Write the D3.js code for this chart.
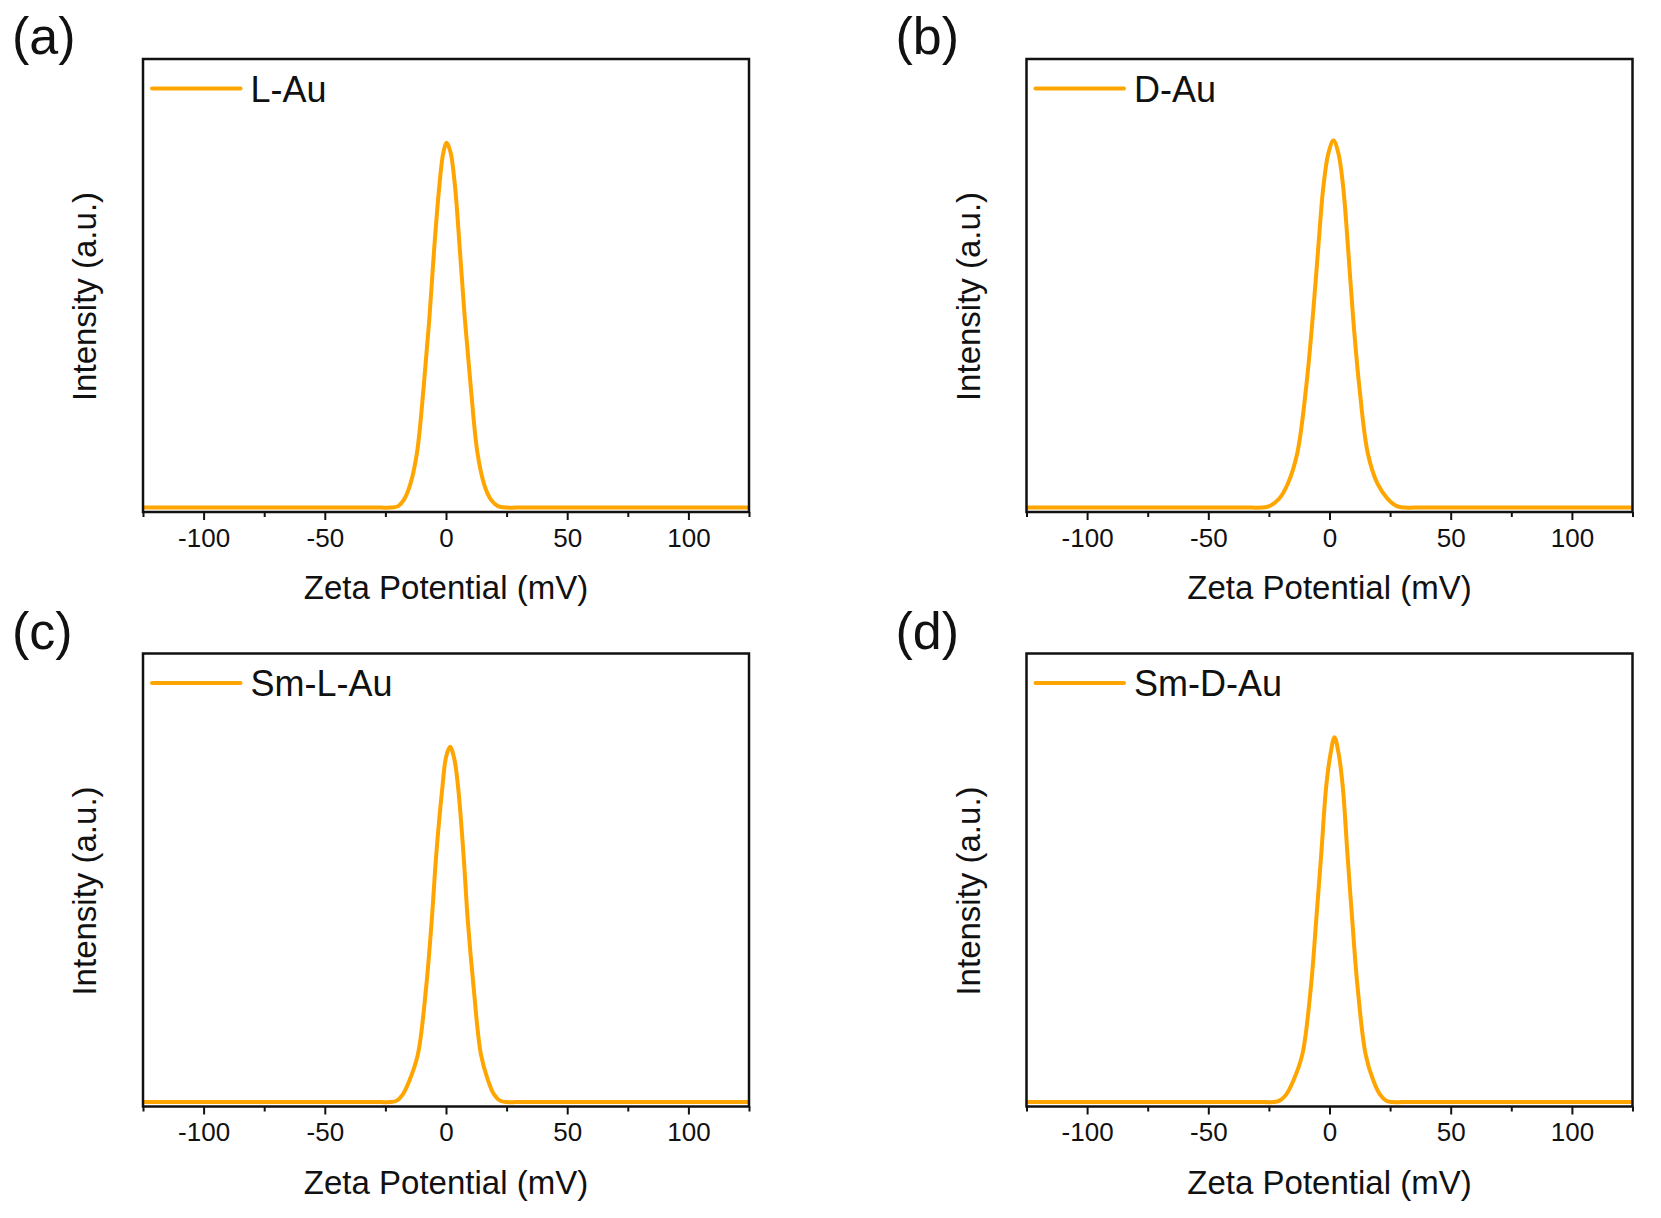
<!DOCTYPE html>
<html>
<head>
<meta charset="utf-8">
<script src="https://cdn.jsdelivr.net/npm/d3@7"></script>
<style>
  html, body { margin: 0; padding: 0; background: #fff; }
  svg text { font-family: Arial, 'Liberation Sans', sans-serif; fill: #111; }
</style>
</head>
<body>
<div id="chart"></div>
<script>
// Zeta potential distributions, four panels
const xDomain = [-125, 125];
const yDomain = [-0.012, 1.222];
const majorTicks = [-100, -50, 0, 50, 100];
const minorTicks = [-125, -75, -25, 25, 75, 125];
const panelLabels = ['(a)', '(b)', '(c)', '(d)'];
const seriesNames = ['L-Au', 'D-Au', 'Sm-L-Au', 'Sm-D-Au'];
const xTitle = 'Zeta Potential (mV)';
const yTitle = 'Intensity (a.u.)';

// [mV, intensity]
const lAu = [
  [-125, 0], [-100, 0], [-75, 0], [-50, 0], [-35, 0], [-27, 0], [-23, 0],
  [-19.7, 0.004], [-17.4, 0.021], [-14.8, 0.062], [-12.0, 0.148],
  [-9.2, 0.33], [-6.9, 0.512], [-5.0, 0.694], [-2.75, 0.876], [-1.1, 0.967], [0.3, 0.994],
  [1.9, 0.967], [3.7, 0.876], [5.8, 0.694], [7.8, 0.512], [10.2, 0.33], [13.0, 0.148],
  [15.8, 0.062], [18.6, 0.021], [21.4, 0.004],
  [25, 0], [29, 0], [37, 0], [50, 0], [75, 0], [100, 0], [125, 0]
];
const dAu = [
  [-125, 0], [-100, 0], [-75, 0], [-50, 0], [-40, 0], [-32, 0], [-28, 0],
  [-24.8, 0.004], [-20.8, 0.024], [-17.2, 0.065], [-13.3, 0.148],
  [-9.6, 0.33], [-7.0, 0.512], [-4.8, 0.694], [-2.5, 0.876], [-0.4, 0.967], [1.65, 1.0],
  [3.6, 0.967], [5.6, 0.876], [7.8, 0.694], [9.8, 0.512], [12.3, 0.33], [15.8, 0.148],
  [19.8, 0.065], [24.0, 0.024], [27.8, 0.004],
  [31, 0], [35, 0], [43, 0], [50, 0], [75, 0], [100, 0], [125, 0]
];
const smLAu = [
  [-125, 0], [-100, 0], [-75, 0], [-50, 0], [-35, 0], [-27, 0], [-23, 0],
  [-20.3, 0.004], [-17.8, 0.021], [-15.0, 0.06], [-11.6, 0.13],
  [-8.2, 0.312], [-5.9, 0.494], [-4.0, 0.676], [-1.5, 0.857], [0, 0.939], [1.65, 0.968],
  [3.3, 0.939], [5.0, 0.857], [7.2, 0.676], [9.0, 0.494], [11.4, 0.312], [14.4, 0.13],
  [17.3, 0.06], [19.8, 0.021], [22.3, 0.004],
  [25, 0], [29, 0], [37, 0], [50, 0], [75, 0], [100, 0], [125, 0]
];
const smDAu = [
  [-125, 0], [-100, 0], [-75, 0], [-50, 0], [-35, 0], [-27, 0], [-23, 0],
  [-20.6, 0.004], [-17.8, 0.021], [-14.8, 0.06], [-11.2, 0.13],
  [-7.7, 0.312], [-5.5, 0.494], [-3.4, 0.676], [-1.4, 0.857], [0.4, 0.948], [2.06, 0.994],
  [3.8, 0.948], [5.5, 0.857], [7.4, 0.676], [9.4, 0.494], [11.6, 0.312], [14.9, 0.13],
  [18.0, 0.06], [20.8, 0.021], [23.4, 0.004],
  [26, 0], [30, 0], [38, 0], [50, 0], [75, 0], [100, 0], [125, 0]
];
const seriesData = [lAu, dAu, smLAu, smDAu];

const LINE_COLOR = '#ffa500';
const W = 606, H = 453;
const origins = [[143, 59], [1026.5, 59], [143, 653.5], [1026.5, 653.5]];

const svg = d3.select('#chart').append('svg')
  .attr('width', 1661).attr('height', 1218);

const x = d3.scaleLinear().domain(xDomain).range([0, W]);
const y = d3.scaleLinear().domain(yDomain).range([H, 0]);

const line = d3.line()
  .x(d => x(d[0]))
  .y(d => y(d[1]))
  .curve(d3.curveCatmullRom.alpha(0.5));

seriesData.forEach((data, i) => {
  const [ox, oy] = origins[i];
  const g = svg.append('g').attr('transform', `translate(${ox},${oy})`);

  // panel letter
  g.append('text')
    .attr('x', -131).attr('y', -5)
    .attr('font-size', 52)
    .text(panelLabels[i]);

  // curve
  g.append('path')
    .datum(data)
    .attr('fill', 'none')
    .attr('stroke', LINE_COLOR)
    .attr('stroke-width', 4)
    .attr('stroke-linejoin', 'round')
    .attr('d', line);

  // minor ticks
  g.append('g')
    .attr('transform', `translate(0,${H})`)
    .call(d3.axisBottom(x).tickValues(minorTicks).tickSize(5).tickFormat(''))
    .call(a => a.select('.domain').remove())
    .call(a => a.selectAll('line').attr('stroke', '#111').attr('stroke-width', 2));

  // major ticks (plain hyphen for negatives, as in the original)
  g.append('g')
    .attr('transform', `translate(0,${H})`)
    .call(d3.axisBottom(x).tickValues(majorTicks).tickSize(8).tickPadding(8.5)
      .tickFormat(d => String(d)))
    .call(a => a.select('.domain').remove())
    .call(a => a.selectAll('line').attr('stroke', '#111').attr('stroke-width', 2))
    .call(a => a.selectAll('text')
      .attr('font-size', 26)
      .attr('font-family', "Arial, 'Liberation Sans', sans-serif")
      .attr('fill', '#111'));

  // frame
  g.append('rect')
    .attr('x', 0).attr('y', 0)
    .attr('width', W).attr('height', H)
    .attr('fill', 'none')
    .attr('stroke', '#111')
    .attr('stroke-width', 2.5);

  // axis titles
  g.append('text')
    .attr('x', W / 2).attr('y', H + 87)
    .attr('text-anchor', 'middle')
    .attr('font-size', 33)
    .text(xTitle);

  g.append('text')
    .attr('transform', `translate(-47,${H / 2 + 11}) rotate(-90)`)
    .attr('text-anchor', 'middle')
    .attr('font-size', 33)
    .text(yTitle);

  // legend
  g.append('line')
    .attr('x1', 9).attr('x2', 97.5)
    .attr('y1', 29.5).attr('y2', 29.5)
    .attr('stroke', LINE_COLOR)
    .attr('stroke-width', 4)
    .attr('stroke-linecap', 'round');
  g.append('text')
    .attr('x', 107.5).attr('y', 42.5)
    .attr('font-size', 36)
    .text(seriesNames[i]);
});
</script>
</body>
</html>
